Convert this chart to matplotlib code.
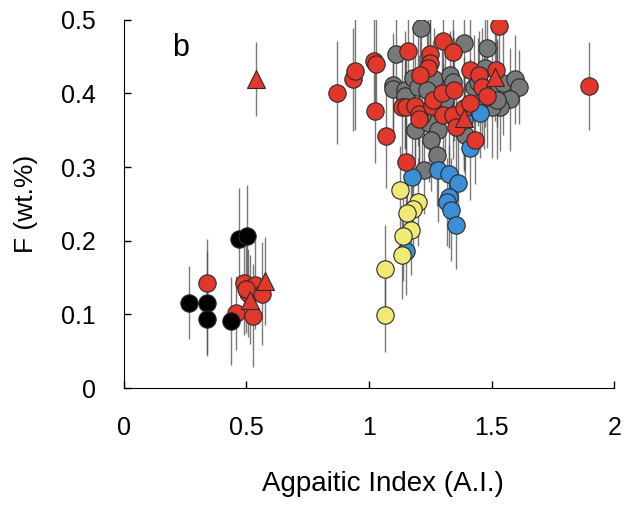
import matplotlib
matplotlib.use('Agg')
import matplotlib.pyplot as plt

# Agpaitic index vs F content, grouped by sample type
black_x = [0.267, 0.341, 0.341, 0.437, 0.469, 0.501]
black_y = [0.116, 0.116, 0.094, 0.091, 0.202, 0.206]
black_err = [0.05, 0.07, 0.05, 0.06, 0.07, 0.07]

grey_x = [1.212, 1.110, 1.389, 1.480, 1.097, 1.097, 1.147, 1.147, 1.181, 1.201,
          1.263, 1.331, 1.344, 1.236, 1.310, 1.188, 1.246, 1.283, 1.253, 1.276,
          1.222, 1.392, 1.473, 1.521, 1.548, 1.596, 1.610, 1.576, 1.535, 1.501,
          1.521, 1.426, 1.446, 1.467, 1.215]
grey_y = [0.489, 0.453, 0.468, 0.462, 0.412, 0.406, 0.405, 0.396, 0.421, 0.409,
          0.419, 0.425, 0.416, 0.405, 0.391, 0.351, 0.360, 0.351, 0.337, 0.317,
          0.296, 0.344, 0.434, 0.414, 0.414, 0.419, 0.409, 0.392, 0.382, 0.382,
          0.391, 0.409, 0.416, 0.394, 0.371]
grey_err = [0.07, 0.08, 0.06, 0.07, 0.07, 0.06, 0.08, 0.07, 0.07, 0.08,
            0.07, 0.06, 0.07, 0.08, 0.07, 0.07, 0.08, 0.06, 0.07, 0.07,
            0.06, 0.07, 0.08, 0.06, 0.07, 0.06, 0.05, 0.07, 0.06, 0.07,
            0.08, 0.07, 0.06, 0.07, 0.08]

blue_x = [1.174, 1.283, 1.324, 1.362, 1.324, 1.317, 1.335, 1.354, 1.151, 1.412,
          1.453, 1.389]
blue_y = [0.286, 0.296, 0.290, 0.278, 0.260, 0.253, 0.242, 0.222, 0.186, 0.326,
          0.373, 0.364]
blue_err = [0.06, 0.07, 0.06, 0.06, 0.07, 0.06, 0.07, 0.06, 0.06, 0.07,
            0.06, 0.07]

yellow_x = [1.127, 1.199, 1.181, 1.154, 1.171, 1.137, 1.133, 1.065, 1.065]
yellow_y = [0.269, 0.253, 0.243, 0.238, 0.214, 0.206, 0.181, 0.161, 0.099]
yellow_err = [0.06, 0.06, 0.06, 0.06, 0.06, 0.06, 0.06, 0.06, 0.05]

red_x = [0.340, 0.457, 0.491, 0.505, 0.525, 0.535, 0.565, 0.500,
         0.868, 0.936, 0.943, 1.018, 1.029, 1.024, 1.068, 1.150, 1.158, 1.249,
         1.249, 1.242, 1.206, 1.301, 1.344, 1.528, 1.895, 1.134, 1.151, 1.188,
         1.204, 1.204, 1.256, 1.260, 1.297, 1.348, 1.303, 1.341, 1.355, 1.389,
         1.412, 1.412, 1.450, 1.460, 1.480, 1.518, 1.433]
red_y = [0.1425, 0.102, 0.1425, 0.129, 0.098, 0.140, 0.128, 0.135,
         0.401, 0.419, 0.431, 0.444, 0.440, 0.376, 0.342, 0.307, 0.458, 0.453,
         0.441, 0.434, 0.425, 0.471, 0.456, 0.491, 0.410, 0.381, 0.381, 0.383,
         0.372, 0.365, 0.383, 0.391, 0.400, 0.405, 0.371, 0.371, 0.355, 0.380,
         0.387, 0.432, 0.425, 0.409, 0.396, 0.432, 0.337]
red_err = [0.06, 0.05, 0.07, 0.06, 0.07, 0.06, 0.07, 0.06,
           0.07, 0.07, 0.08, 0.08, 0.07, 0.07, 0.07, 0.06, 0.07, 0.08,
           0.07, 0.07, 0.08, 0.07, 0.06, 0.07, 0.06, 0.08, 0.07, 0.07,
           0.08, 0.07, 0.07, 0.08, 0.06, 0.07, 0.07, 0.06, 0.07, 0.07,
           0.06, 0.07, 0.06, 0.08, 0.07, 0.06, 0.06]

tri_x = [0.514, 0.576, 0.539, 1.389, 1.514]
tri_y = [0.120, 0.145, 0.420, 0.367, 0.423]
tri_err = [0.06, 0.06, 0.05, 0.07, 0.06]

plt.rcParams['font.family'] = ['Liberation Sans', 'DejaVu Sans']

fig = plt.figure(figsize=(6.32, 5.09), dpi=100)
ax = fig.add_axes([0.196, 0.2377, 0.776, 0.7233])


def draw(x, y, err, color, marker='o', ms=12.5):
    ax.errorbar(x, y, yerr=err, fmt=marker, ms=ms, mfc=color, mec='#2a2a2a',
                mew=0.8, ecolor=(0.3, 0.3, 0.3, 0.75), elinewidth=1.0,
                capsize=0)


draw(grey_x, grey_y, grey_err, '#76787a')
draw(blue_x, blue_y, blue_err, '#3a8fd6')
draw(yellow_x, yellow_y, yellow_err, '#f0ea74')
draw(red_x, red_y, red_err, '#e2372b')
draw(tri_x, tri_y, tri_err, '#e2372b', marker='^', ms=12.5)
draw(black_x, black_y, black_err, '#000000')

ax.set_xlim(0, 2)
ax.set_ylim(0, 0.5)
ax.set_xticks([0, 0.5, 1, 1.5, 2])
ax.set_xticklabels(['0', '0.5', '1', '1.5', '2'])
ax.set_yticks([0, 0.1, 0.2, 0.3, 0.4, 0.5])
ax.set_yticklabels(['0', '0.1', '0.2', '0.3', '0.4', '0.5'])
ax.tick_params(direction='in', length=5, width=1, labelsize=18, pad=20)
ax.spines['top'].set_visible(False)
ax.spines['right'].set_visible(False)

ax.set_xlabel('Agpaitic Index (A.I.)', fontsize=20)
ax.set_ylabel('F (wt.%)', fontsize=19)
ax.xaxis.set_label_coords(0.529, -0.225)
ax.yaxis.set_label_coords(-0.175, 0.5)

ax.text(0.23, 0.462, 'b', fontsize=22, ha='center', va='center')

fig.savefig('out.png', dpi=100)
